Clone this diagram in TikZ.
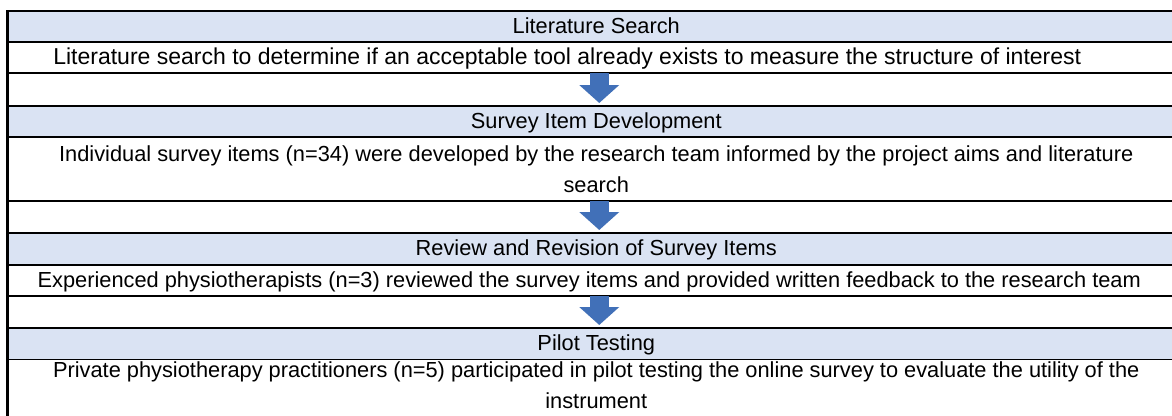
\documentclass[tikz,border=0pt]{standalone}
\usepackage{fontspec}
\setmainfont{Liberation Sans}
\usetikzlibrary{positioning,arrows.meta}
\definecolor{headblue}{HTML}{DAE3F3}
\definecolor{arrowblue}{HTML}{4170B8}

\begin{document}
\begin{tikzpicture}[x=1pt, y=-1pt, node distance=0pt, line width=2.6pt,
        row/.style={draw, rectangle, inner sep=0pt, outer sep=0pt, minimum width=1177.5pt,
            align=center, font=\fontsize{21.8}{31}\selectfont},
        head row/.style={row, fill=headblue, text height=16pt, text depth=3pt},
        text row/.style={row, fill=white},
        gap row/.style={row, fill=white},
        flow arrow/.style={arrowblue, line width=19pt, shorten >=3pt,
            -{Triangle[length=18pt, width=39pt]}}]
    \clip (0,0) rectangle (1172,415);
    \node[head row, minimum height=31pt, anchor=north west] (h1) at (7.5,11) {Literature Search};
    \node[text row, minimum height=31pt, text height=16pt, text depth=2pt,
        font=\fontsize{23}{31}\selectfont] (t1) [below=of h1]
        {Literature search to determine if an acceptable tool already exists to measure the structure of interest\hspace*{58pt}};
    \node[gap row, minimum height=33pt] (g1) [below=of t1] {};
    \node[head row, minimum height=31pt] (h2) [below=of g1] {Survey Item Development};
    \node[text row, minimum height=64pt] (t2) [below=of h2]
        {Individual survey items (n=34) were developed by the research team informed by the project aims and literature\\ search};
    \node[gap row, minimum height=32pt] (g2) [below=of t2] {};
    \node[head row, minimum height=32pt] (h3) [below=of g2] {Review and Revision of Survey Items};
    \node[text row, minimum height=31pt, text height=16pt, text depth=3pt] (t3) [below=of h3]
        {Experienced physiotherapists (n=3) reviewed the survey items and provided written feedback to the research team\hspace*{14pt}};
    \node[gap row, minimum height=32pt] (g3) [below=of t3] {};
    \node[head row, minimum height=32pt] (h4) [below=of g3] {Pilot Testing};
    \node[text row, draw=none, minimum height=51pt] (t4) [below=of h4]
        {Private physiotherapy practitioners (n=5) participated in pilot testing the online survey to evaluate the utility of the\\ instrument};
    \draw (h4.south west) -- ++(0,70);
    % arrows between the steps
    \draw[flow arrow] ([xshift=3pt]t1.south) -- ([xshift=3pt]h2.north);
    \draw[flow arrow] ([xshift=3pt]t2.south) -- ([xshift=3pt]h3.north);
    \draw[flow arrow] ([xshift=3pt]t3.south) -- ([xshift=3pt]h4.north);
\end{tikzpicture}
\end{document}
